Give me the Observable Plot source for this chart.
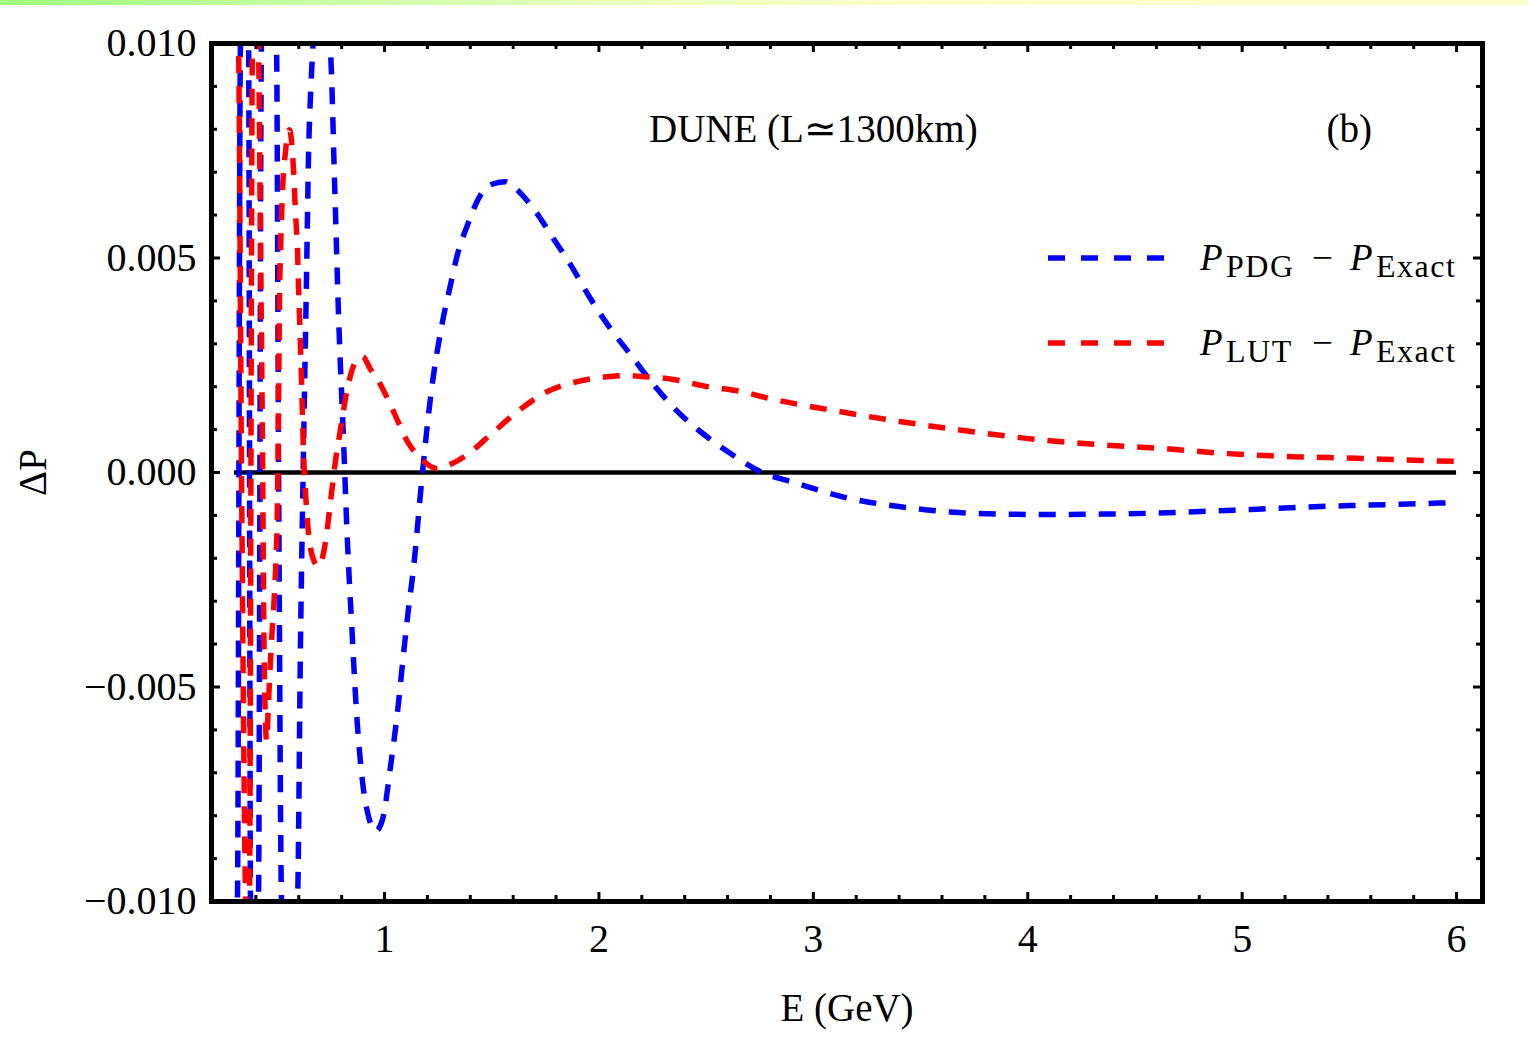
<!DOCTYPE html>
<html><head><meta charset="utf-8">
<script src="https://cdn.jsdelivr.net/npm/d3@7"></script>
<script src="https://cdn.jsdelivr.net/npm/@observablehq/plot@0.6"></script>
<style>
html,body{margin:0;padding:0;background:#fff;}
#wrap{position:relative;width:1528px;height:1045px;overflow:hidden;background:#fff;}
#bar{position:absolute;left:0;top:0;width:1528px;height:5px;background:linear-gradient(90deg,#9ffb80 0%,#c6fda4 20%,#e8ffbe 40%,#fdffc8 60%,#ffffcc 100%);z-index:2;}
#chart{position:absolute;left:0;top:0;}
</style></head><body>
<div id="wrap"><div id="bar"></div><div id="chart"></div></div>
<script>
// ---- data ----
const blueE = [0.300,0.314,0.328,0.347,0.366,0.375,0.394,0.412,0.426,0.459,0.496,0.506,0.520,0.557,0.594,0.608,0.622,0.636,0.646,0.655,0.701,0.748,0.767,0.785,0.809,0.827,0.846,0.869,0.897,0.925,0.958,0.991,1.028,1.061,1.089,1.112,1.135,1.173,1.215,1.266,1.308,1.340,1.387,1.448,1.508,1.564,1.602,1.695,1.788,1.868,1.961,2.054,2.147,2.255,2.367,2.474,2.600,2.754,2.908,3.174,3.407,3.640,3.873,4.106,4.340,4.573,4.806,5.039,5.272,5.506,5.739,6.000];
const blueDP = [-0.0120,-0.0100,0.0100,0.0115,0.0100,-0.0100,-0.0115,-0.0100,0.0100,0.0115,0.0100,0.0000,-0.0100,-0.0115,-0.0100,-0.0040,0.00049,0.0045,0.0075,0.0088,0.0115,0.0098,0.00678,0.00375,0.00072,-0.00161,-0.00347,-0.00556,-0.00719,-0.00801,-0.00836,-0.00808,-0.00685,-0.00556,-0.00421,-0.00317,-0.00224,-0.00021,0.00177,0.00340,0.00438,0.00508,0.00577,0.00647,0.00673,0.00678,0.00666,0.00615,0.00545,0.00484,0.00405,0.00335,0.00275,0.00205,0.00142,0.00095,0.00049,0.00002,-0.00023,-0.00061,-0.00080,-0.00092,-0.00097,-0.00098,-0.00097,-0.00095,-0.00091,-0.00086,-0.00081,-0.00077,-0.00074,-0.00070];

const redE = [0.300,0.319,0.333,0.352,0.361,0.370,0.384,0.398,0.412,0.422,0.431,0.436,0.440,0.450,0.459,0.473,0.487,0.501,0.506,0.510,0.515,0.524,0.538,0.557,0.576,0.585,0.594,0.599,0.604,0.613,0.622,0.632,0.646,0.664,0.692,0.725,0.748,0.771,0.795,0.827,0.865,0.897,0.935,0.981,1.042,1.107,1.168,1.247,1.308,1.387,1.494,1.620,1.760,1.900,2.054,2.124,2.194,2.348,2.507,2.660,2.800,3.099,3.402,3.701,4.004,4.330,4.629,4.932,5.230,5.534,5.837,6.000];
const redDP = [0.0125,0.0100,0.0000,-0.0100,-0.0115,-0.0100,0.0100,0.0115,0.0100,0.00515,0.00049,-0.0030,-0.0048,-0.00626,-0.00533,-0.00393,-0.00277,-0.00068,0.00165,0.00398,0.00515,0.00654,0.00747,0.00799,0.00701,0.00603,0.00519,0.00433,0.00356,0.00212,0.00049,-0.00051,-0.00144,-0.00196,-0.00219,-0.00161,-0.00068,0.00026,0.00102,0.00196,0.00258,0.00270,0.00240,0.00205,0.00142,0.00072,0.00033,0.00009,0.00019,0.00042,0.00088,0.00142,0.00189,0.00212,0.00224,0.00226,0.00224,0.00217,0.00200,0.00189,0.00172,0.00144,0.00119,0.00098,0.00079,0.00065,0.00056,0.00044,0.00037,0.00033,0.00028,0.00026];

const seriesNames = ["PDG", "LUT"];
const seriesColors = ["#0000ff", "#ff0000"];

const xTicks = [1, 2, 3, 4, 5, 6];
const xTickLabels = ["1", "2", "3", "4", "5", "6"];
const yTicks = [-0.010, -0.005, 0, 0.005, 0.010];
const yTickLabels = ["\u22120.010", "\u22120.005", "0.000", "0.005", "0.010"];

const titleText = "DUNE (L\u22431300km)";
const panelText = "(b)";
const xLabel = "E (GeV)";
const yLabel = "\u0394P";

// ---- build ----
const blue = blueE.map((e, i) => ({E: e, dP: blueDP[i]}));
const red = redE.map((e, i) => ({E: e, dP: redDP[i]}));

const W = 1528, H = 1045, mL = 211, mR = 46, mT = 43, mB = 144;
const fw = W - mL - mR, fh = H - mT - mB;
const font = "'Liberation Serif','Times New Roman',serif";

const xMinor = d3.range(0.4, 6.05, 0.2).filter(v => Math.abs(v - Math.round(v)) > 1e-6);
const yMinor = d3.range(-0.009, 0.0095, 0.001).filter(v => Math.abs(v / 0.005 - Math.round(v / 0.005)) > 1e-6);

const tickStyle = {stroke: "black", strokeWidth: 3};
const lineStyle = {x: "E", y: "dP", curve: "monotone-x", strokeWidth: 5.5, strokeDasharray: "17,13", strokeLinecap: "butt", clip: true};
const chart = Plot.plot({
  width: W, height: H,
  marginLeft: mL, marginRight: mR, marginTop: mT, marginBottom: mB,
  x: {domain: [0.193, 6.121]},
  y: {domain: [-0.010, 0.010]},
  style: {fontFamily: font, fontSize: "40px", color: "black", background: "white", overflow: "visible"},
  marks: [
    Plot.ruleY([0], {x1: d3.min(blueE), x2: d3.max(blueE), stroke: "black", strokeWidth: 4.5}),
    Plot.line(blue, {...lineStyle, stroke: seriesColors[0]}),
    Plot.line(red, {...lineStyle, stroke: seriesColors[1]}),
    // inward ticks
    Plot.ruleX(xTicks, {x: d => d, insetTop: fh - 9, ...tickStyle}),
    Plot.ruleX(xTicks, {x: d => d, insetBottom: fh - 9, ...tickStyle}),
    Plot.ruleX(xMinor, {x: d => d, insetTop: fh - 6, ...tickStyle}),
    Plot.ruleX(xMinor, {x: d => d, insetBottom: fh - 6, ...tickStyle}),
    Plot.ruleY(yTicks, {y: d => d, insetRight: fw - 9, ...tickStyle}),
    Plot.ruleY(yTicks, {y: d => d, insetLeft: fw - 9, ...tickStyle}),
    Plot.ruleY(yMinor, {y: d => d, insetRight: fw - 6, ...tickStyle}),
    Plot.ruleY(yMinor, {y: d => d, insetLeft: fw - 6, ...tickStyle}),
    Plot.frame({stroke: "black", strokeWidth: 5}),
    Plot.axisX({ticks: xTicks, tickFormat: d => xTickLabels[xTicks.indexOf(d)], tickSize: 0, tickPadding: 22, fontSize: 40, fontFamily: font, label: null}),
    Plot.axisY({ticks: yTicks, tickFormat: d => yTickLabels[yTicks.indexOf(d)], tickSize: 0, tickPadding: 15, fontSize: 40, fontFamily: font, label: null}),
    Plot.text([xLabel], {frameAnchor: "bottom", dy: 107, lineAnchor: "middle", text: d => d, fontSize: 39, fontFamily: font, fill: "black"}),
    Plot.text([yLabel], {frameAnchor: "left", dx: -178, rotate: -90, textAnchor: "middle", lineAnchor: "middle", text: d => d, fontSize: 39, fontFamily: font, fill: "black"}),
    Plot.text([titleText], {x: () => 3.0, y: () => 0.008, text: d => d, fontSize: 39, fontFamily: font, fill: "black"}),
    Plot.text([panelText], {x: () => 5.5, y: () => 0.008, text: d => d, fontSize: 39, fontFamily: font, fill: "black"})
  ]
});
document.getElementById("chart").appendChild(chart);

// legend (inside the frame, top-right)
const svg = d3.select(chart);
const lg = svg.append("g").attr("font-family", font).attr("fill", "black").attr("text-anchor", "start");
const rowY = [258, 343];
seriesNames.forEach((name, i) => {
  const y = rowY[i];
  lg.append("line").attr("x1", 1048).attr("x2", 1167).attr("y1", y).attr("y2", y)
    .attr("stroke", seriesColors[i]).attr("stroke-width", 5.5).attr("stroke-dasharray", "17,16");
  const t = lg.append("text").attr("y", y + 12).attr("font-size", 37).attr("text-anchor", "start");
  t.append("tspan").attr("x", 1200).attr("font-style", "italic").text("P");
  t.append("tspan").attr("x", 1226).attr("dy", 7).attr("font-size", 32).attr("letter-spacing", 1.5).text(name);
  t.append("tspan").attr("x", 1312).attr("dy", -7).text("\u2212");
  t.append("tspan").attr("x", 1350).attr("font-style", "italic").text("P");
  t.append("tspan").attr("x", 1376).attr("dy", 7).attr("font-size", 32).attr("letter-spacing", 1.5).text("Exact");
});
</script>
</body></html>
